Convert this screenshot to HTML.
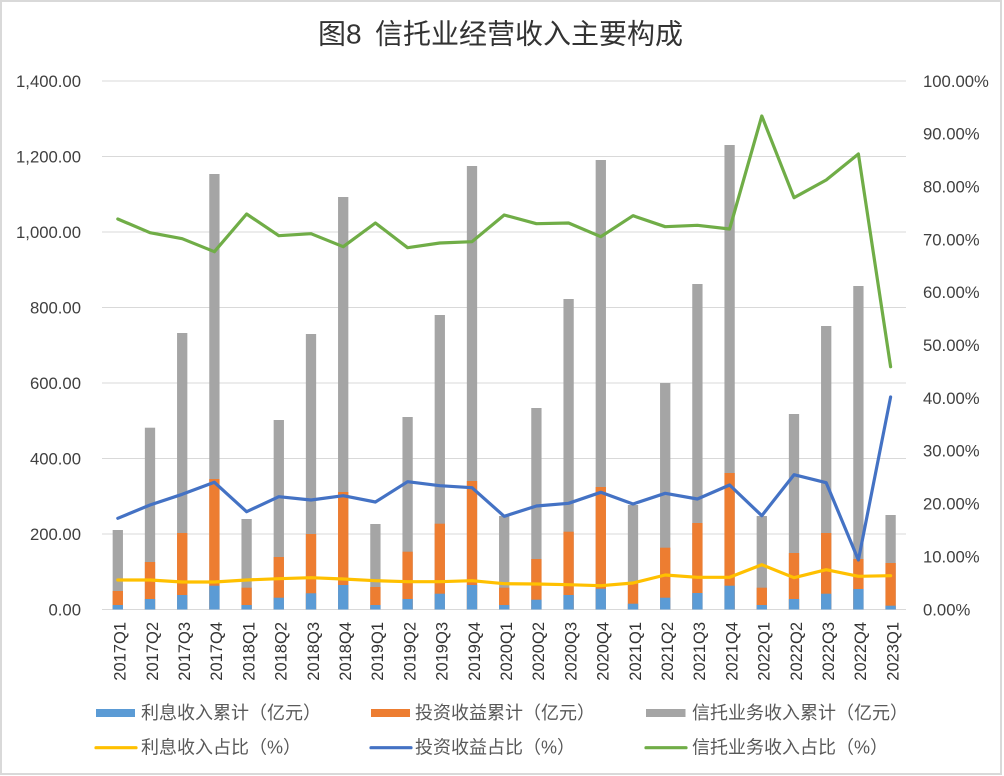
<!DOCTYPE html>
<html><head><meta charset="utf-8"><style>
html,body{margin:0;padding:0;background:#fff;}
svg{display:block;}
</style></head><body>
<svg width="1004" height="776" viewBox="0 0 1004 776" xmlns="http://www.w3.org/2000/svg">
<rect x="1" y="1" width="1000" height="773" fill="#fff" stroke="#d9d9d9" stroke-width="2"/>
<!-- title -->
<g font-family="'Liberation Sans','Noto Sans CJK SC',sans-serif" font-size="28" fill="#333">
<text x="318" y="34" dominant-baseline="central">图8</text>
<text x="375" y="34" dominant-baseline="central">信托业经营收入主要构成</text>
</g>
<!-- gridlines -->
<g stroke="#d9d9d9" stroke-width="1">
<line x1="102" x2="906" y1="81" y2="81"/>
<line x1="102" x2="906" y1="156.5" y2="156.5"/>
<line x1="102" x2="906" y1="232" y2="232"/>
<line x1="102" x2="906" y1="307.5" y2="307.5"/>
<line x1="102" x2="906" y1="383" y2="383"/>
<line x1="102" x2="906" y1="458.5" y2="458.5"/>
<line x1="102" x2="906" y1="534" y2="534"/>
<line x1="102" x2="906" y1="609.5" y2="609.5"/>
</g>
<!-- left axis labels -->
<g font-family="'Liberation Sans',sans-serif" font-size="16.7" fill="#404040" text-anchor="end">
<text x="81" y="86.8">1,400.00</text>
<text x="81" y="162.3">1,200.00</text>
<text x="81" y="237.8">1,000.00</text>
<text x="81" y="313.3">800.00</text>
<text x="81" y="388.8">600.00</text>
<text x="81" y="464.3">400.00</text>
<text x="81" y="539.8">200.00</text>
<text x="81" y="615.3">0.00</text>
</g>
<!-- right axis labels -->
<g font-family="'Liberation Sans',sans-serif" font-size="16.7" fill="#404040">
<text x="923" y="86.8">100.00%</text>
<text x="923" y="139.6">90.00%</text>
<text x="923" y="192.5">80.00%</text>
<text x="923" y="245.3">70.00%</text>
<text x="923" y="298.2">60.00%</text>
<text x="923" y="351">50.00%</text>
<text x="923" y="403.9">40.00%</text>
<text x="923" y="456.7">30.00%</text>
<text x="923" y="509.6">20.00%</text>
<text x="923" y="562.4">10.00%</text>
<text x="923" y="615.3">0.00%</text>
</g>
<!-- gray bars -->
<g fill="#a5a5a5">
<rect x="112.65" y="530" width="10.3" height="79.5"/>
<rect x="144.85" y="427.7" width="10.3" height="181.8"/>
<rect x="177.05" y="333" width="10.3" height="276.5"/>
<rect x="209.25" y="174" width="10.3" height="435.5"/>
<rect x="241.45" y="519" width="10.3" height="90.5"/>
<rect x="273.65" y="420" width="10.3" height="189.5"/>
<rect x="305.85" y="334" width="10.3" height="275.5"/>
<rect x="338.05" y="197" width="10.3" height="412.5"/>
<rect x="370.25" y="524" width="10.3" height="85.5"/>
<rect x="402.45" y="417" width="10.3" height="192.5"/>
<rect x="434.65" y="315" width="10.3" height="294.5"/>
<rect x="466.85" y="166" width="10.3" height="443.5"/>
<rect x="499.05" y="516" width="10.3" height="93.5"/>
<rect x="531.25" y="408" width="10.3" height="201.5"/>
<rect x="563.45" y="299" width="10.3" height="310.5"/>
<rect x="595.65" y="160" width="10.3" height="449.5"/>
<rect x="627.85" y="505" width="10.3" height="104.5"/>
<rect x="660.05" y="383" width="10.3" height="226.5"/>
<rect x="692.25" y="284" width="10.3" height="325.5"/>
<rect x="724.45" y="145" width="10.3" height="464.5"/>
<rect x="756.65" y="516" width="10.3" height="93.5"/>
<rect x="788.85" y="414" width="10.3" height="195.5"/>
<rect x="821.05" y="326" width="10.3" height="283.5"/>
<rect x="853.25" y="286" width="10.3" height="323.5"/>
<rect x="885.45" y="515" width="10.3" height="94.5"/>
</g>
<!-- orange bars -->
<g fill="#ed7d31">
<rect x="112.65" y="591" width="10.3" height="18.5"/>
<rect x="144.85" y="562" width="10.3" height="47.5"/>
<rect x="177.05" y="533" width="10.3" height="76.5"/>
<rect x="209.25" y="479" width="10.3" height="130.5"/>
<rect x="241.45" y="587.7" width="10.3" height="21.8"/>
<rect x="273.65" y="557" width="10.3" height="52.5"/>
<rect x="305.85" y="534" width="10.3" height="75.5"/>
<rect x="338.05" y="492" width="10.3" height="117.5"/>
<rect x="370.25" y="587" width="10.3" height="22.5"/>
<rect x="402.45" y="551.7" width="10.3" height="57.8"/>
<rect x="434.65" y="523.7" width="10.3" height="85.8"/>
<rect x="466.85" y="481" width="10.3" height="128.5"/>
<rect x="499.05" y="587.7" width="10.3" height="21.8"/>
<rect x="531.25" y="559" width="10.3" height="50.5"/>
<rect x="563.45" y="531.7" width="10.3" height="77.8"/>
<rect x="595.65" y="487" width="10.3" height="122.5"/>
<rect x="627.85" y="583.7" width="10.3" height="25.8"/>
<rect x="660.05" y="547.7" width="10.3" height="61.8"/>
<rect x="692.25" y="523" width="10.3" height="86.5"/>
<rect x="724.45" y="473" width="10.3" height="136.5"/>
<rect x="756.65" y="587.7" width="10.3" height="21.8"/>
<rect x="788.85" y="553" width="10.3" height="56.5"/>
<rect x="821.05" y="533" width="10.3" height="76.5"/>
<rect x="853.25" y="559" width="10.3" height="50.5"/>
<rect x="885.45" y="563" width="10.3" height="46.5"/>
</g>
<!-- blue bars -->
<g fill="#5b9bd5">
<rect x="112.65" y="605" width="10.3" height="4.5"/>
<rect x="144.85" y="599" width="10.3" height="10.5"/>
<rect x="177.05" y="595" width="10.3" height="14.5"/>
<rect x="209.25" y="585.7" width="10.3" height="23.8"/>
<rect x="241.45" y="605" width="10.3" height="4.5"/>
<rect x="273.65" y="597.7" width="10.3" height="11.8"/>
<rect x="305.85" y="593.3" width="10.3" height="16.2"/>
<rect x="338.05" y="585" width="10.3" height="24.5"/>
<rect x="370.25" y="605" width="10.3" height="4.5"/>
<rect x="402.45" y="599" width="10.3" height="10.5"/>
<rect x="434.65" y="593.7" width="10.3" height="15.8"/>
<rect x="466.85" y="585" width="10.3" height="24.5"/>
<rect x="499.05" y="605" width="10.3" height="4.5"/>
<rect x="531.25" y="599.7" width="10.3" height="9.8"/>
<rect x="563.45" y="595" width="10.3" height="14.5"/>
<rect x="595.65" y="588.7" width="10.3" height="20.8"/>
<rect x="627.85" y="603.7" width="10.3" height="5.8"/>
<rect x="660.05" y="597.7" width="10.3" height="11.8"/>
<rect x="692.25" y="593" width="10.3" height="16.5"/>
<rect x="724.45" y="585.7" width="10.3" height="23.8"/>
<rect x="756.65" y="605" width="10.3" height="4.5"/>
<rect x="788.85" y="599" width="10.3" height="10.5"/>
<rect x="821.05" y="593.7" width="10.3" height="15.8"/>
<rect x="853.25" y="589" width="10.3" height="20.5"/>
<rect x="885.45" y="605.7" width="10.3" height="3.8"/>
</g>
<!-- lines -->
<g fill="none" stroke-width="3.2" stroke-linejoin="round" stroke-linecap="round">
<polyline stroke="#ffc000" points="117.8,580 150,580 182.2,582 214.4,582 246.6,580 278.8,578.7 311,577.7 343.2,579 375.4,580.7 407.6,581.7 439.8,581.7 472,580.7 504.2,583.7 536.4,584 568.6,584.7 600.8,585.7 633,583 665.2,575 697.4,577.3 729.6,577.3 761.8,564.7 794,577.7 826.2,569.7 858.4,576.3 890.6,575.7"/>
<polyline stroke="#4472c4" points="117.8,518.3 150,505 182.2,494.3 214.4,482.3 246.6,511.7 278.8,496.7 311,500 343.2,495.7 375.4,502 407.6,481.7 439.8,485.7 472,487.7 504.2,516.3 536.4,506 568.6,503.3 600.8,492.3 633,504 665.2,493.3 697.4,499 729.6,485 761.8,515.7 794,474.7 826.2,482.7 858.4,560 890.6,397"/>
<polyline stroke="#70ad47" points="117.8,219 150,232.7 182.2,238.7 214.4,251.7 246.6,214 278.8,235.7 311,233.7 343.2,246.7 375.4,223 407.6,247.7 439.8,243 472,241.7 504.2,215 536.4,223.7 568.6,223 600.8,236.7 633,215.7 665.2,226.7 697.4,225.3 729.6,229 761.8,116 794,197.7 826.2,180 858.4,154 890.6,366.7"/>
</g>
<!-- x axis labels -->
<g font-family="'Liberation Sans',sans-serif" font-size="16.5" fill="#333" text-anchor="end">
<text transform="translate(125.6,622) rotate(-90)">2017Q1</text>
<text transform="translate(157.8,622) rotate(-90)">2017Q2</text>
<text transform="translate(190,622) rotate(-90)">2017Q3</text>
<text transform="translate(222.2,622) rotate(-90)">2017Q4</text>
<text transform="translate(254.4,622) rotate(-90)">2018Q1</text>
<text transform="translate(286.6,622) rotate(-90)">2018Q2</text>
<text transform="translate(318.8,622) rotate(-90)">2018Q3</text>
<text transform="translate(351,622) rotate(-90)">2018Q4</text>
<text transform="translate(383.2,622) rotate(-90)">2019Q1</text>
<text transform="translate(415.4,622) rotate(-90)">2019Q2</text>
<text transform="translate(447.6,622) rotate(-90)">2019Q3</text>
<text transform="translate(479.8,622) rotate(-90)">2019Q4</text>
<text transform="translate(512,622) rotate(-90)">2020Q1</text>
<text transform="translate(544.2,622) rotate(-90)">2020Q2</text>
<text transform="translate(576.4,622) rotate(-90)">2020Q3</text>
<text transform="translate(608.6,622) rotate(-90)">2020Q4</text>
<text transform="translate(640.8,622) rotate(-90)">2021Q1</text>
<text transform="translate(673,622) rotate(-90)">2021Q2</text>
<text transform="translate(705.2,622) rotate(-90)">2021Q3</text>
<text transform="translate(737.4,622) rotate(-90)">2021Q4</text>
<text transform="translate(769.6,622) rotate(-90)">2022Q1</text>
<text transform="translate(801.8,622) rotate(-90)">2022Q2</text>
<text transform="translate(834,622) rotate(-90)">2022Q3</text>
<text transform="translate(866.2,622) rotate(-90)">2022Q4</text>
<text transform="translate(898.4,622) rotate(-90)">2023Q1</text>
</g>
<!-- legend -->
<rect x="96" y="709" width="39" height="8" fill="#5b9bd5"/>
<rect x="371" y="709" width="39" height="8" fill="#ed7d31"/>
<rect x="646" y="709" width="39.5" height="8" fill="#a5a5a5"/>
<g stroke-width="3.2" stroke-linecap="round">
<line x1="96" x2="136" y1="747.7" y2="747.7" stroke="#ffc000"/>
<line x1="371" x2="411" y1="747.7" y2="747.7" stroke="#4472c4"/>
<line x1="646" x2="686" y1="747.7" y2="747.7" stroke="#70ad47"/>
</g>
<g font-family="'Liberation Sans','Noto Sans CJK SC',sans-serif" font-size="18" fill="#595959" dominant-baseline="central">
<text x="141" y="713">利息收入累计（亿元）</text>
<text x="415" y="713">投资收益累计（亿元）</text>
<text x="692" y="713">信托业务收入累计（亿元）</text>
<text x="141" y="747.5">利息收入占比（%）</text>
<text x="415" y="747.5">投资收益占比（%）</text>
<text x="692" y="747.5">信托业务收入占比（%）</text>
</g>
</svg>
</body></html>
